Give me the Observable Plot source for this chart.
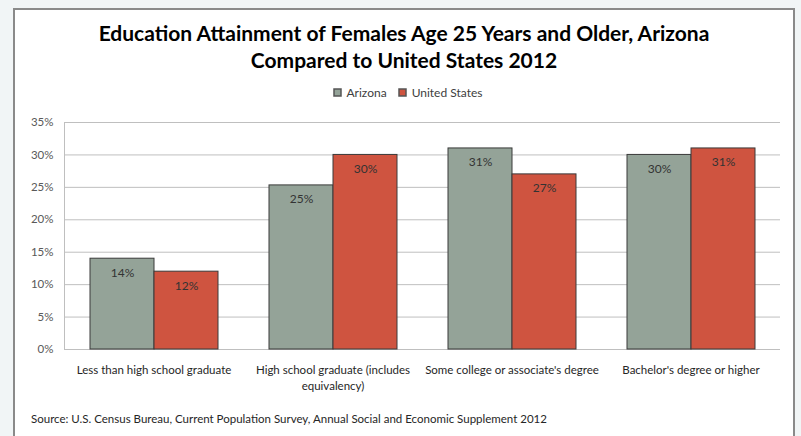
<!DOCTYPE html>
<html>
<head>
<meta charset="utf-8">
<script src="https://cdn.jsdelivr.net/npm/d3@7"></script>
<script src="https://cdn.jsdelivr.net/npm/@observablehq/plot@0.6"></script>
<style>
  body { margin: 0; width: 801px; height: 436px; overflow: hidden; position: relative; background: #f1f5f6; font-family: Lato, "Liberation Sans", sans-serif; }
  #panel { position: absolute; left: 13px; top: 8px; width: 778px; height: 500px; border: 2px solid #8a8a8a; background: #fff; }
  #title { position: absolute; left: 13px; width: 782px; top: 19px; text-align: center; font-weight: 700; font-size: 21px; line-height: 27px; color: #000; }
  #legend { position: absolute; left: 23px; width: 782px; top: 76px; display: flex; justify-content: center; }
  .layer { position: absolute; left: 0; top: 100px; }
  #source { position: absolute; left: 31px; top: 412px; font-size: 11.5px; color: #262626; white-space: nowrap; }
  .lg-swatch svg rect { stroke: #555; stroke-width: 1.5px; }
</style>
</head>
<body>
<div id="panel"></div>
<div id="title">Education Attainment of Females Age 25 Years and Older, Arizona<br>Compared to United States 2012</div>
<div id="legend"></div>
<div id="grid" class="layer"></div>
<div id="bars" class="layer"></div>
<div id="source">Source: U.S. Census Bureau, Current Population Survey, Annual Social and Economic Supplement 2012</div>
<script>
// Categories of educational attainment and their axis labels
const categories = [
  "Less than high school graduate",
  "High school graduate (includes equivalency)",
  "Some college or associate's degree",
  "Bachelor's degree or higher"
];
const categoryLabels = [
  "Less than high school graduate",
  "High school graduate (includes\nequivalency)",
  "Some college or associate's degree",
  "Bachelor's degree or higher"
];

// Series and their shares of females age 25+
const series = ["Arizona", "United States"];
const arizona = [0.14, 0.253, 0.31, 0.30];
const unitedStates = [0.12, 0.30, 0.27, 0.31];
const colors = ["#94a398", "#cf5440"];

// Y axis ticks
const yTicks = [0, 0.05, 0.10, 0.15, 0.20, 0.25, 0.30, 0.35];

const pct = d3.format(".0%");
const rows = categories.flatMap((c, i) => [
  {category: c, series: series[0], value: arizona[i]},
  {category: c, series: series[1], value: unitedStates[i]}
]);

const dims = {width: 801, height: 300, marginTop: 22, marginBottom: 51, marginLeft: 64, marginRight: 21};

// Back layer: horizontal gridlines, left axis line and percentage ticks
document.getElementById("grid").append(Plot.plot({
  ...dims,
  style: {background: "transparent", fontFamily: "Lato, sans-serif", fontSize: "11.5px", color: "#595959"},
  x: {type: "band", domain: categories, axis: null},
  y: {domain: [0, 0.35], axis: null},
  marks: [
    Plot.gridY(yTicks, {stroke: "#bfbfbf", strokeOpacity: 1}),
    Plot.frame({anchor: "left", stroke: "#bfbfbf"}),
    Plot.axisY(yTicks, {tickSize: 0, tickPadding: 11, tickFormat: pct, fill: "#595959", label: null})
  ]
}));

// Front layer: grouped bars with value labels, faceted by category
document.getElementById("bars").append(Plot.plot({
  ...dims,
  style: {background: "transparent", fontFamily: "Lato, sans-serif", fontSize: "11.5px", color: "#262626"},
  fx: {domain: categories, padding: 0, label: null},
  x: {domain: series, paddingInner: 0, paddingOuter: 0.382, axis: null},
  y: {domain: [0, 0.35], axis: null},
  color: {domain: series, range: colors},
  marks: [
    Plot.barY(rows, {fx: "category", x: "series", y: "value", fill: "series", stroke: "#3a3a3a", strokeWidth: 1}),
    Plot.text(rows, {fx: "category", x: "series", y: "value", text: d => pct(d.value), dy: 14, fill: "#333", fontSize: 12}),
    Plot.axisFx({anchor: "bottom", tickSize: 0, tickPadding: 13, lineHeight: 1.4, label: null,
      tickFormat: d => categoryLabels[categories.indexOf(d)], fill: "#262626"})
  ]
}));

// Legend
document.getElementById("legend").append(Plot.legend({
  color: {domain: series, range: colors},
  swatchSize: 7,
  className: "lg",
  style: {fontFamily: "Lato, sans-serif", fontSize: "12px", color: "#404040"}
}));
</script>
</body>
</html>
